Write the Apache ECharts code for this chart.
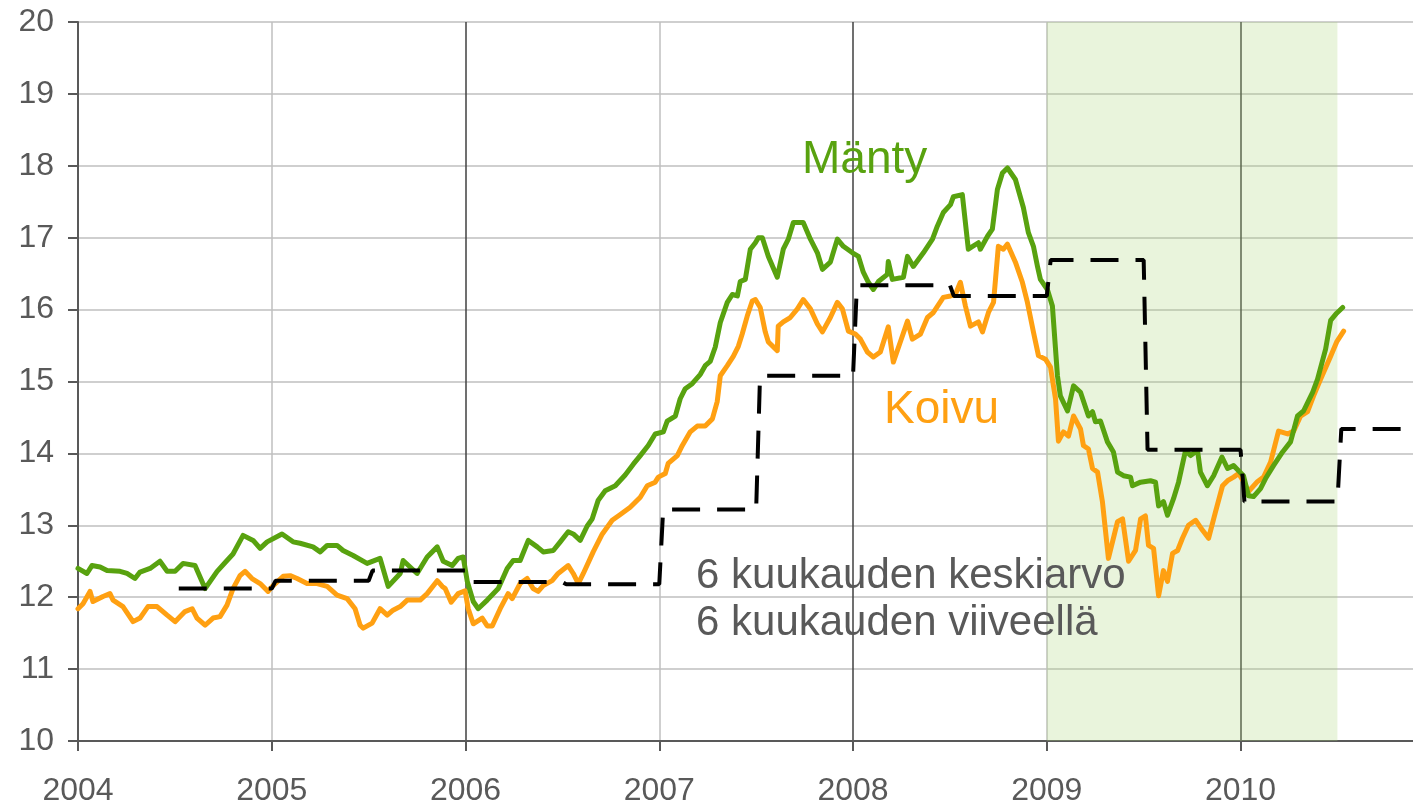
<!DOCTYPE html>
<html>
<head>
<meta charset="utf-8">
<script src="https://cdn.jsdelivr.net/npm/echarts@6/dist/echarts.min.js"></script>
<style>
html,body{margin:0;padding:0;background:#fff;}
#chart{width:1413px;height:807px;}
</style>
</head>
<body>
<div id="chart"></div>
<script>
// ---- data (decimal years) ----
var yearTicks = [2004, 2005, 2006, 2007, 2008, 2009, 2010];

var mantyDates = [2004.000,2004.046,2004.072,2004.114,2004.150,2004.217,2004.253,2004.294,2004.320,2004.372,2004.423,2004.460,2004.501,2004.542,2004.604,2004.656,2004.718,2004.769,2004.800,2004.852,2004.904,2004.940,2004.976,
2005.053,2005.110,2005.146,2005.213,2005.250,2005.286,2005.337,2005.368,2005.420,2005.492,2005.559,2005.601,2005.663,2005.678,2005.750,2005.802,2005.854,2005.885,2005.931,2005.962,2005.988,
2006.009,2006.040,2006.065,2006.112,2006.169,2006.215,2006.246,2006.282,2006.324,2006.370,2006.401,2006.453,2006.489,2006.530,2006.556,2006.592,2006.628,2006.654,2006.685,2006.721,2006.773,2006.824,2006.866,2006.902,2006.943,2006.979,
2007.021,2007.041,2007.083,2007.108,2007.134,2007.170,2007.212,2007.237,2007.263,2007.289,2007.315,2007.351,2007.377,2007.403,2007.418,2007.444,2007.470,2007.496,2007.511,2007.532,2007.563,2007.609,2007.640,2007.666,2007.692,2007.743,2007.780,2007.816,2007.842,2007.883,2007.919,2007.950,2007.997,
2008.028,2008.053,2008.079,2008.105,2008.131,2008.177,2008.182,2008.203,2008.260,2008.281,2008.311,2008.363,2008.410,2008.435,2008.466,2008.503,2008.518,2008.564,2008.595,2008.647,2008.657,2008.694,2008.719,2008.745,2008.771,2008.797,2008.838,2008.879,2008.905,2008.931,2008.952,2008.967,
2009.003,2009.029,2009.055,2009.070,2009.107,2009.138,2009.174,2009.215,2009.236,2009.251,2009.277,2009.313,2009.344,2009.365,2009.396,2009.432,2009.442,2009.484,2009.535,2009.561,2009.577,2009.602,2009.623,2009.654,2009.680,2009.716,2009.742,2009.778,2009.793,2009.829,2009.861,2009.904,2009.933,2009.964,2009.990,
2010.015,2010.041,2010.067,2010.103,2010.129,2010.170,2010.217,2010.258,2010.294,2010.325,2010.372,2010.397,2010.439,2010.465,2010.496,2010.527];
var mantyValues = [12.40,12.33,12.44,12.42,12.37,12.36,12.33,12.26,12.35,12.40,12.50,12.36,12.36,12.47,12.44,12.12,12.36,12.51,12.60,12.86,12.79,12.68,12.77,
12.88,12.77,12.75,12.70,12.63,12.72,12.72,12.65,12.58,12.47,12.54,12.15,12.33,12.51,12.33,12.56,12.70,12.50,12.44,12.54,12.56,
12.22,11.94,11.84,11.96,12.12,12.40,12.51,12.51,12.79,12.70,12.63,12.65,12.77,12.91,12.88,12.79,12.99,13.09,13.35,13.48,13.55,13.70,13.85,13.97,14.11,14.27,
14.30,14.45,14.52,14.76,14.90,14.97,15.10,15.22,15.28,15.48,15.82,16.10,16.21,16.19,16.39,16.42,16.84,16.93,17.00,17.00,16.74,16.45,16.84,16.98,17.21,17.21,16.98,16.79,16.56,16.66,16.98,16.88,16.79,
16.74,16.52,16.38,16.28,16.39,16.49,16.67,16.42,16.45,16.74,16.60,16.79,16.98,17.16,17.35,17.46,17.57,17.60,16.84,16.93,16.84,17.02,17.12,17.67,17.90,17.97,17.81,17.42,17.07,16.88,16.60,16.42,
16.28,16.05,15.08,14.80,14.59,14.94,14.85,14.52,14.58,14.44,14.45,14.16,14.02,13.74,13.69,13.67,13.55,13.60,13.62,13.60,13.27,13.33,13.14,13.37,13.60,14.04,13.97,14.04,13.74,13.55,13.69,13.95,13.79,13.83,13.76,
13.69,13.41,13.40,13.51,13.65,13.83,14.02,14.16,14.52,14.59,14.85,15.03,15.45,15.85,15.95,16.03];

var koivuDates = [2004.000,2004.026,2004.062,2004.077,2004.129,2004.165,2004.181,2004.232,2004.284,2004.320,2004.361,2004.408,2004.460,2004.501,2004.552,2004.589,2004.614,2004.656,2004.697,2004.733,2004.769,2004.800,2004.836,2004.862,2004.898,2004.940,2004.981,
2005.007,2005.059,2005.095,2005.131,2005.182,2005.234,2005.286,2005.337,2005.389,2005.430,2005.456,2005.472,2005.518,2005.559,2005.596,2005.626,2005.663,2005.699,2005.766,2005.802,2005.854,2005.880,2005.895,2005.926,2005.962,2005.998,
2006.014,2006.040,2006.086,2006.112,2006.138,2006.179,2006.220,2006.241,2006.282,2006.318,2006.349,2006.375,2006.401,2006.447,2006.478,2006.530,2006.556,2006.582,2006.608,2006.659,2006.706,2006.757,2006.799,2006.850,2006.902,2006.938,2006.979,2006.995,
2007.031,2007.046,2007.093,2007.119,2007.160,2007.196,2007.237,2007.274,2007.299,2007.315,2007.351,2007.382,2007.408,2007.428,2007.454,2007.480,2007.496,2007.521,2007.547,2007.563,2007.609,2007.614,2007.640,2007.676,2007.713,2007.743,2007.780,2007.816,2007.842,2007.883,2007.919,2007.945,2007.976,
2008.012,2008.038,2008.074,2008.105,2008.141,2008.182,2008.208,2008.244,2008.281,2008.306,2008.348,2008.384,2008.415,2008.466,2008.503,2008.528,2008.554,2008.580,2008.606,2008.647,2008.668,2008.699,2008.725,2008.750,2008.776,2008.797,2008.838,2008.874,2008.900,2008.931,2008.957,2008.993,
2009.019,2009.045,2009.060,2009.086,2009.112,2009.138,2009.174,2009.189,2009.215,2009.236,2009.262,2009.287,2009.318,2009.365,2009.391,2009.422,2009.458,2009.484,2009.509,2009.525,2009.551,2009.577,2009.602,2009.623,2009.649,2009.675,2009.700,2009.731,2009.768,2009.804,2009.835,2009.871,2009.907,2009.933,2009.964,2009.990,
2010.015,2010.041,2010.088,2010.119,2010.155,2010.196,2010.243,2010.274,2010.310,2010.346,2010.377,2010.413,2010.465,2010.496,2010.532];
var koivuValues = [11.84,11.91,12.08,11.94,12.01,12.05,11.96,11.87,11.66,11.71,11.87,11.87,11.75,11.66,11.80,11.84,11.71,11.61,11.71,11.73,11.89,12.12,12.30,12.36,12.26,12.19,12.08,
12.16,12.29,12.30,12.26,12.19,12.19,12.15,12.03,11.98,11.84,11.61,11.57,11.64,11.84,11.75,11.82,11.87,11.96,11.96,12.05,12.23,12.15,12.12,11.93,12.05,12.09,
11.84,11.63,11.71,11.60,11.60,11.84,12.05,11.98,12.19,12.26,12.12,12.08,12.16,12.23,12.33,12.44,12.33,12.19,12.33,12.63,12.88,13.07,13.15,13.25,13.39,13.55,13.60,13.67,
13.72,13.86,13.97,14.11,14.30,14.38,14.38,14.48,14.72,15.08,15.22,15.35,15.49,15.66,15.91,16.12,16.14,16.03,15.69,15.55,15.43,15.77,15.83,15.89,16.01,16.14,16.01,15.80,15.69,15.89,16.10,16.01,15.70,
15.66,15.59,15.41,15.34,15.41,15.76,15.27,15.55,15.84,15.59,15.66,15.89,15.96,16.17,16.19,16.21,16.38,16.05,15.77,15.83,15.69,15.96,16.10,16.88,16.84,16.91,16.66,16.38,16.10,15.69,15.36,15.31,
15.20,14.76,14.17,14.30,14.24,14.52,14.34,14.11,14.06,13.79,13.74,13.33,12.54,13.05,13.09,12.50,12.65,13.09,13.13,12.72,12.68,12.02,12.37,12.22,12.61,12.65,12.82,13.00,13.07,12.93,12.82,13.19,13.55,13.62,13.67,13.72,
13.61,13.47,13.61,13.67,13.88,14.31,14.27,14.31,14.52,14.58,14.80,15.03,15.35,15.55,15.70];

// 6-month average, lagged 6 months: period starts and values
var avgStarts = [2004.5, 2005.0, 2005.5, 2006.0, 2006.5, 2007.0, 2007.5, 2008.0, 2008.5, 2009.0, 2009.5, 2010.0, 2010.5];
var avgValues = [12.12, 12.23, 12.37, 12.21, 12.18, 13.22, 15.08, 16.34, 16.19, 16.69, 14.05, 13.33, 14.34];

var shadeStart = 2009.0, shadeEnd = 2010.5;
var xMin = 2004, xMax = 2010.89;

function zip(a, b) { return a.map(function (v, i) { return [v, b[i]]; }); }
var avgData = [];
for (var i = 0; i < avgStarts.length; i++) {
  var end = i + 1 < avgStarts.length ? avgStarts[i + 1] : xMax + 0.2;
  avgData.push([avgStarts[i] + 0.02, avgValues[i]]);
  avgData.push([end, avgValues[i]]);
}

var chart = echarts.init(document.getElementById('chart'), null, {renderer: 'canvas'});
var FONT = '"Liberation Sans", Arial, sans-serif';
var option = {
  animation: false,
  backgroundColor: '#ffffff',
  grid: {left: 78, right: 0, top: 22, bottom: 64, containLabel: false},
  xAxis: {
    type: 'value', min: xMin, max: xMax, interval: 0.5,
    axisLine: {show: true, onZero: false, lineStyle: {color: '#595959', width: 2}},
    axisTick: {show: true, length: 10, customValues: yearTicks, lineStyle: {color: '#595959', width: 2}},
    axisLabel: {show: true, customValues: yearTicks, margin: 34, fontSize: 32, color: '#595959', fontFamily: FONT,
      formatter: function (v) { return Math.abs(v - Math.round(v)) < 1e-6 ? String(Math.round(v)) : ''; }},
    splitLine: {show: true, lineStyle: {color: ['#404040', '#bfbfbf'], width: 1.5}}
  },
  yAxis: {
    type: 'value', min: 10, max: 20, interval: 1,
    axisLine: {show: true, lineStyle: {color: '#595959', width: 2}},
    axisTick: {show: true, length: 10, lineStyle: {color: '#595959', width: 2}},
    axisLabel: {margin: 24, fontSize: 32, color: '#595959', fontFamily: FONT},
    splitLine: {show: true, lineStyle: {color: '#bfbfbf', width: 1.5}}
  },
  series: [
    {
      name: 'Koivu', type: 'line', data: zip(koivuDates, koivuValues), showSymbol: false, z: 3,
      lineStyle: {color: '#FFA012', width: 5, join: 'round', cap: 'round'},
      markArea: {silent: true, itemStyle: {color: 'rgba(170, 212, 120, 0.26)'},
        data: [[{xAxis: shadeStart}, {xAxis: shadeEnd}]]}
    },
    {
      name: 'Mänty', type: 'line', data: zip(mantyDates, mantyValues), showSymbol: false, z: 4,
      lineStyle: {color: '#58A20F', width: 5, join: 'round', cap: 'round'}
    },
    {
      name: 'avg', type: 'line', data: avgData, showSymbol: false, z: 5, clip: true,
      lineStyle: {color: '#000000', width: 4, type: [28, 17]}
    }
  ],
  graphic: [
    {type: 'text', left: 802, top: 137, z: 10, style: {text: 'Mänty', font: '46px ' + FONT, fill: '#58A20F'}},
    {type: 'text', left: 884, top: 387, z: 10, style: {text: 'Koivu', font: '46px ' + FONT, fill: '#FFA012'}},
    {type: 'text', left: 696, top: 555, z: 10, style: {text: '6 kuukauden keskiarvo', font: '42px ' + FONT, fill: '#595959'}},
    {type: 'text', left: 696, top: 602, z: 10, style: {text: '6 kuukauden viiveellä', font: '42px ' + FONT, fill: '#595959'}}
  ]
};
chart.setOption(option);
</script>
</body>
</html>
